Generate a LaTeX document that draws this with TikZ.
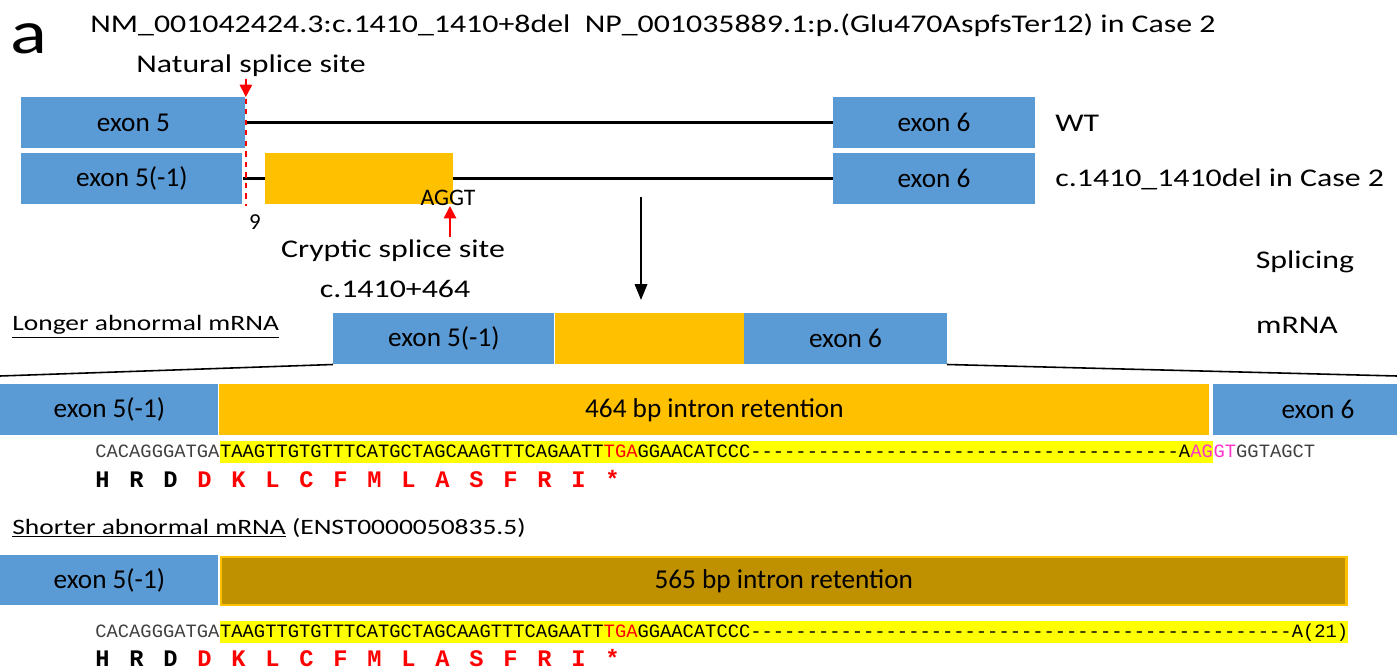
\documentclass[tikz,border=0pt]{standalone}
\usepackage{fontspec}
\setmainfont{Carlito}
\newfontfamily\widefont{Carlito}[FakeStretch=1.25]
\newfontfamily\seqfont{Liberation Mono}
\usetikzlibrary{positioning,arrows.meta}

\definecolor{exonblue}{HTML}{5B9BD5}
\definecolor{intronorange}{HTML}{FFC000}
\definecolor{introngold}{HTML}{BF9000}
\definecolor{seqgray}{HTML}{404040}
\definecolor{splicepink}{HTML}{FF33CC}
\definecolor{hilite}{HTML}{FFFF00}

\newcommand{\px}{0.5669pt}
\newcommand{\gap}[1]{\foreach \k in {1,...,#1}{-\kern0pt}}

\tikzset{
  lbl/.style={font=\widefont\fontsize{14.5}{17}\selectfont, inner sep=0pt},
  boxlbl/.style={font=\fontsize{15.5}{18}\selectfont, inner sep=0pt},
  sized/.style 2 args={minimum width=#1*\px, minimum height=#2*\px},
  exonbox/.style={boxlbl, fill=exonblue, anchor=north west},
  intronbox/.style={boxlbl, fill=intronorange, anchor=north west},
  intron/.style={line width=1.7pt},
  splicearrow/.style={red, line width=1.1pt, -{Triangle[width=7pt,length=7pt]}},
  seq/.style={font=\seqfont\fontsize{10.7}{12}\selectfont, inner sep=0pt,
    text height=9pt, text depth=3.4pt},
  hl/.style={seq, fill=hilite},
  pep/.style={font=\seqfont\bfseries\fontsize{13.5}{15}\selectfont, inner sep=0pt,
    anchor=base west}
}

\begin{document}
\begin{tikzpicture}[x=0.02cm, y=-0.02cm]
  \useasboundingbox (0,0) rectangle (1397,672);

  % header
  \node[lbl, font=\widefont\fontsize{35}{37}\selectfont, anchor=base west] (panel) at (10,54) {a};
  \node[lbl, anchor=base west] (title) at (90,33)
    {NM\_001042424.3:c.1410\_1410+8del\ \ NP\_001035889.1:p.(Glu470AspfsTer12) in Case 2};
  \node[lbl, anchor=base] (natural) at (251,73) {Natural splice site};

  % genomic, WT and deletion
  \node[exonbox, sized={225}{51}] (ex5) at (21,97) {exon 5};
  \node[exonbox, sized={202}{51}] (ex6) at (833,97) {exon 6};
  \node[exonbox, sized={222}{51}] (ex5del) at (21,153) {exon 5(-1)};
  \node[intronbox, sized={188}{51}] (cryptic) at (265,153) {};
  \node[exonbox, sized={202}{51}] (ex6del) at (833,153) {exon 6};
  \draw[intron] (ex5.east) -- (ex6.west);
  \draw[intron] (ex5del.east) -- (cryptic.west);
  \draw[intron] (cryptic.east) -- (ex6del.west);
  \node[lbl, anchor=west] (wt) at (1055,123) {WT};
  \node[lbl, anchor=west] (del) at (1055,179) {c.1410\_1410del in Case 2};

  % splice sites
  \coordinate (cut top) at (246,88);
  \coordinate (cut bot) at (246,206);
  \draw[red, dashed, line width=0.7pt] (cut top) -- (cut bot);
  \coordinate (nat tail) at (246,79);
  \draw[splicearrow] (nat tail) -- (ex5.north east);
  \node[boxlbl, font=\fontsize{13}{15}\selectfont] (nine) at (255,222) {9};
  \node[boxlbl, font=\fontsize{13.5}{15}\selectfont] (aggt) at (448,198) {AGGT};
  \coordinate (cr tail) at (450,237);
  \coordinate (cr tip) at (450,206);
  \draw[splicearrow] (cr tail) -- (cr tip);
  \node[lbl] (crlabel) at (393,251) {Cryptic splice site};
  \node[lbl] (crpos) at (395,289) {c.1410+464};

  % splicing
  \coordinate (spl top) at (641,197);
  \coordinate (spl bot) at (641,300);
  \draw[line width=1.3pt, -{Triangle[width=7pt,length=9pt]}] (spl top) -- (spl bot);
  \node[lbl] (splicing) at (1305,262) {Splicing};
  \node[lbl] (mrna) at (1297,325) {mRNA};

  % longer abnormal mRNA
  \node[lbl, font=\widefont\fontsize{12.5}{15}\selectfont, anchor=west] (longer) at (12,327)
    {\underline{Longer abnormal mRNA}};
  \node[exonbox, sized={222}{51}] (m5) at (333,313) {exon 5(-1)};
  \node[intronbox, sized={189}{51}] (mret) at (555,313) {};
  \node[exonbox, sized={203}{51}] (m6) at (744,313) {exon 6};
  \coordinate (zoom left) at (0,376);
  \coordinate (zoom right) at (1397,376);
  \draw[line width=0.9pt] (m5.south west) -- (zoom left);
  \draw[line width=0.9pt] (m6.south east) -- (zoom right);

  \node[exonbox, sized={219}{51}] (l5) at (0,384) {exon 5(-1)};
  \node[intronbox, sized={994}{51}] (lret) at (219,384) {464 bp intron retention};
  \node[exonbox, sized={210}{51}] (l6) at (1213,384) {exon 6};

  \node[seq, anchor=base west, text=seqgray] (lseqA) at (95,457) {CACAGGGATGA};
  \node[hl, right=0pt of lseqA] (lseqB)
    {TAAGTTGTGTTTCATGCTAGCAAGTTTCAGAATT\textcolor{red}{TGA}GGAACATCCC\gap{38}A\textcolor{splicepink}{AG}};
  \node[seq, right=0pt of lseqB] (lseqC)
    {\textcolor{splicepink}{GT}\textcolor{seqgray}{GGTAGCT}};
  \foreach \aa/\col [count=\i from 0] in {H/black,R/black,D/black,D/red,K/red,L/red,C/red,
      F/red,M/red,L/red,A/red,S/red,F/red,R/red,I/red,*/red}
    \node[pep, text=\col] (lpep-\i) at (95+34*\i,487) {\aa};

  % shorter abnormal mRNA
  \node[lbl, font=\widefont\fontsize{12.5}{15}\selectfont, anchor=west] (shorter) at (12,528)
    {\underline{Shorter abnormal mRNA} (ENST0000050835.5)};
  \node[exonbox, sized={219}{50}] (s5) at (0,555) {exon 5(-1)};
  \node[boxlbl, anchor=north west, fill=introngold, draw=intronorange, line width=1.2pt,
    sized={1130}{48}] (sret) at (220,556) {565 bp intron retention};

  \node[seq, anchor=base west, text=seqgray] (sseqA) at (95,637) {CACAGGGATGA};
  \node[hl, right=0pt of sseqA] (sseqB)
    {TAAGTTGTGTTTCATGCTAGCAAGTTTCAGAATT\textcolor{red}{TGA}GGAACATCCC\gap{48}A(21)};
  \foreach \aa/\col [count=\i from 0] in {H/black,R/black,D/black,D/red,K/red,L/red,C/red,
      F/red,M/red,L/red,A/red,S/red,F/red,R/red,I/red,*/red}
    \node[pep, text=\col] (spep-\i) at (95+34*\i,666) {\aa};

\end{tikzpicture}
\end{document}
